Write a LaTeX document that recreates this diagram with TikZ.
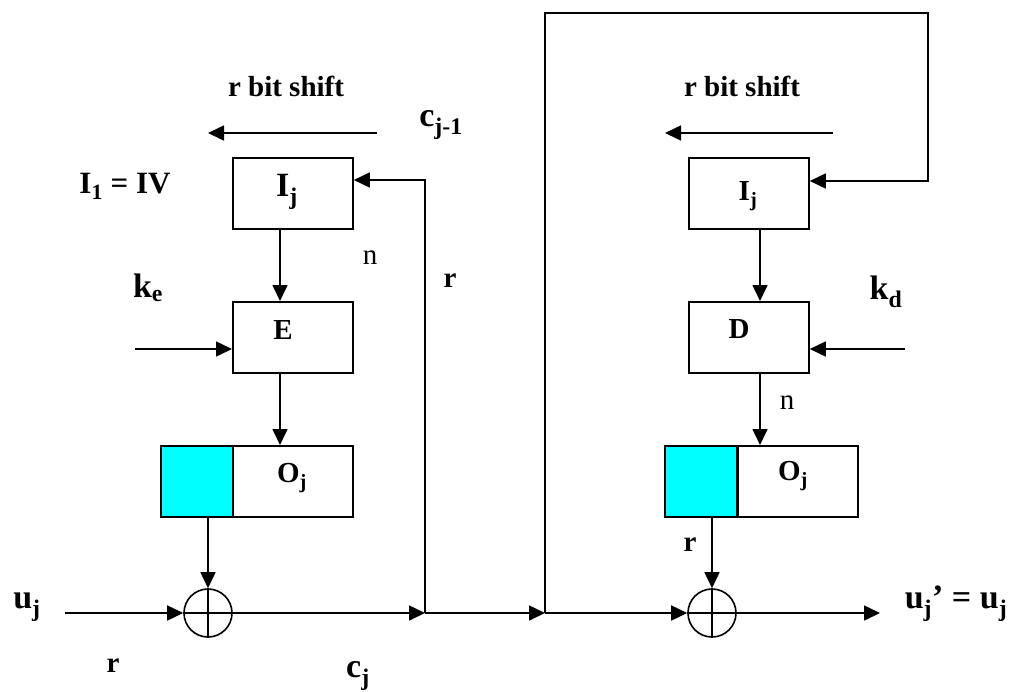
\documentclass[tikz,border=0pt]{standalone}
\usepackage{fontspec}
\setmainfont{Liberation Serif}
\usetikzlibrary{arrows.meta,calc}
\definecolor{cyanfill}{RGB}{0,255,255}
\newcommand\sbs[1]{\textsubscript{#1}}
\tikzset{
  box/.style={draw, line width=1.8pt, minimum width=120pt, minimum height=71pt, inner sep=0pt, anchor=north west},
  cbox/.style={box, fill=cyanfill, minimum width=72pt},
  xor/.style={draw, circle, line width=1.6pt, minimum size=48pt, inner sep=0pt},
  conn/.style={line width=1.6pt, -{Triangle[length=16pt,width=15pt]}},
  wire/.style={line width=1.6pt},
  small/.style={font=\fontsize{29}{33}\selectfont\bfseries, inner sep=0pt},
  big/.style={font=\fontsize{34}{40}\selectfont\bfseries, inner sep=0pt},
  reg/.style={font=\fontsize{29}{33}\selectfont, inner sep=0pt},
}
\begin{document}
\begin{tikzpicture}[x=1pt,y=-1pt]
\useasboundingbox (0,0) rectangle (1011,691);
% ---------- left (encryption) ----------
\node[box] (Ij1) at (232,157) {};
\node[box] (E1) at (232,301) {};
\node[cbox] (O1c) at (160,445) {};
\node[box] (O1) at (232,445) {};
\node[xor] (X1) at (208,613) {};
\draw[wire] (X1.north) -- (X1.south) (X1.west) -- (X1.east);
% ---------- right (decryption) ----------
\node[box] (Ij2) at (688,157) {};
\node[box] (D2) at (688,301) {};
\node[cbox] (O2c) at (664,445) {};
\node[box] (O2) at (737,445) {};
\node[xor] (X2) at (712,613) {};
\draw[wire] (X2.north) -- (X2.south) (X2.west) -- (X2.east);
% ---------- coordinates ----------
\coordinate (sh1a) at (377,133);
\coordinate (sh1b) at (208,133);
\coordinate (sh2a) at (833,133);
\coordinate (sh2b) at (665,133);
\coordinate (kein) at (135,349);
\coordinate (kdin) at (905,349);
\coordinate (uin) at (65,613);
\coordinate (sp1) at (425,613);
\coordinate (sp2) at (545,613);
\coordinate (fb1) at (425,180);
\coordinate (tl) at (545,13);
\coordinate (tr) at (928,13);
\coordinate (fb2) at (928,181);
\coordinate (uout) at (880,613);
\coordinate (dcol) at (760,0);
\coordinate (ecol) at (280,0);
% ---------- connectors ----------
\draw[conn] (sh1a) -- (sh1b);
\draw[conn] (sh2a) -- (sh2b);
\draw[conn] (ecol |- Ij1.south) -- (ecol |- E1.north);
\draw[conn] (ecol |- E1.south) -- (ecol |- O1.north);
\draw[conn] (kein) -- (kein -| E1.west);
\draw[conn] (X1 |- O1c.south) -- (X1.north);
\draw[conn] (uin) -- (X1.west);
\draw[conn] (X1.east) -- (sp1);
\draw[conn] (sp1) -- (sp2);
\draw[conn] (sp1) -- (fb1) -- (fb1 -| Ij1.east);
\draw[conn] (sp2) -- (tl) -- (tr) -- (fb2) -- (fb2 -| Ij2.east);
\draw[conn] (sp2) -- (X2.west);
\draw[conn] (X2.east) -- (uout);
\draw[conn] (kdin) -- (kdin -| D2.east);
\draw[conn] (dcol |- Ij2.south) -- (dcol |- D2.north);
\draw[conn] (dcol |- D2.south) -- (dcol |- O2.north);
\draw[conn] (X2 |- O2c.south) -- (X2.north);
% ---------- labels ----------
\node[small] (shl1) at (286,86) {r bit shift};
\node[small] (shl2) at (742,86) {r bit shift};
\node[big] (cjm) at (441,125) {c\sbs{j-1}};
\node[big, font=\fontsize{31}{36}\selectfont\bfseries] (iv) at (125,186) {I\sbs{1} = IV};
\node[big] (ke) at (148,288) {k\sbs{e}};
\node[big] (kd) at (886,292) {k\sbs{d}};
\node[big] (Ijt1) at (287,192) {I\sbs{j}};
\node[small] (Ijt2) at (748,196) {I\sbs{j}};
\node[small] (Et) at (283,330) {E};
\node[small] (Dt) at (739,329) {D};
\node[small] (Ot1) at (292,478) {O\sbs{j}};
\node[small] (Ot2) at (793,476) {O\sbs{j}};
\node[reg] (n1) at (370,258) {n};
\node[reg] (n2) at (787,403) {n};
\node[small] (r1) at (450,281) {r};
\node[small] (r2) at (690,545) {r};
\node[small] (r3) at (113,666) {r};
\node[big] (uj) at (27,607) {u\sbs{j}};
\node[big] (cj) at (358,676) {c\sbs{j}};
\node[big] (ujo) at (956,604) {u\sbs{j}’ = u\sbs{j}};
\end{tikzpicture}
\end{document}
